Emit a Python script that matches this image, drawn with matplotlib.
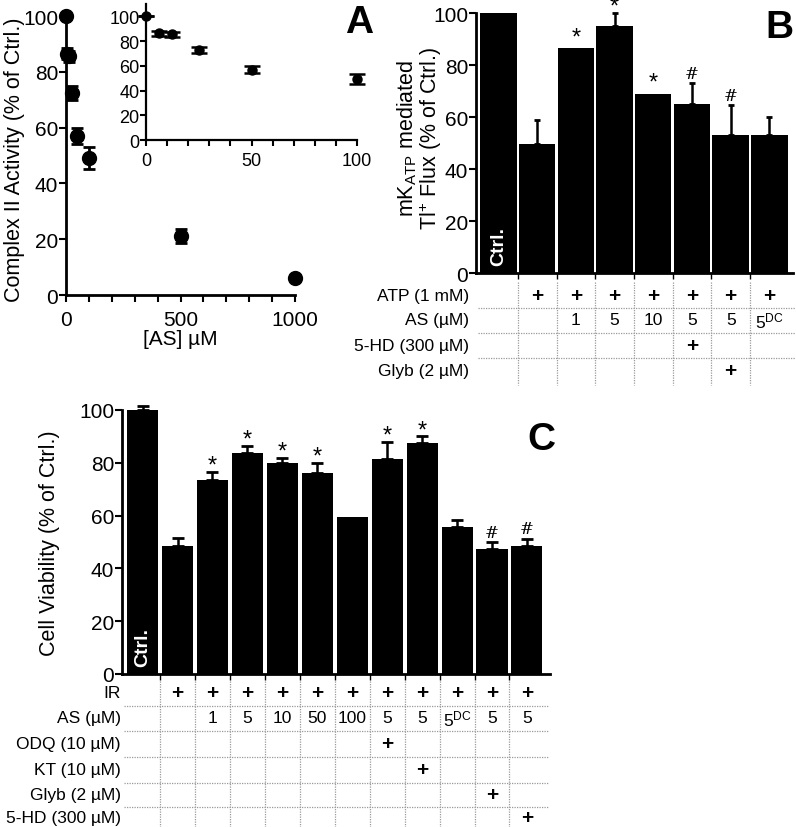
import numpy as np
import matplotlib
matplotlib.use("Agg")
import matplotlib.pyplot as plt
from matplotlib.lines import Line2D
from matplotlib.ticker import FixedLocator, MultipleLocator
from matplotlib.transforms import blended_transform_factory

plt.rcParams['font.family'] = ['Liberation Sans', 'DejaVu Sans']
plt.rcParams['mathtext.fontset'] = 'custom'
plt.rcParams['mathtext.rm'] = 'Liberation Sans'
plt.rcParams['mathtext.it'] = 'Liberation Sans'

# panel A: complex II activity vs [AS]
a_conc = [0, 6.25, 12.5, 25, 50, 100, 500, 1000]
a_act = [100, 86.5, 85.5, 72.5, 57, 49, 21, 6]
a_err = [0, 2, 2, 2.5, 3, 4, 2.5, 0]

# panel B: mK_ATP mediated Tl+ flux
b_vals = [100, 49.5, 86.5, 95, 69, 65, 53, 53]
b_err = [0, 9.5, 0, 5, 0, 8, 11.5, 7]
b_marks = ['', '', '*', '*', '*', '#', '#', '']
b_rows = ['ATP (1 mM)', 'AS (µM)', '5-HD (300 µM)', 'Glyb (2 µM)']
b_cells = [
    ['', '+', '+', '+', '+', '+', '+', '+'],
    ['', '', '1', '5', '10', '5', '5', '5$^{\\mathregular{DC}}$'],
    ['', '', '', '', '', '+', '', ''],
    ['', '', '', '', '', '', '+', ''],
]

# panel C: cell viability
c_vals = [100, 48.3, 73.4, 83.9, 80, 76, 59.5, 81.6, 87.6, 55.7, 47.2, 48.4]
c_err = [1.5, 3.2, 3.3, 2.4, 2, 4, 0, 6.4, 2.4, 2.7, 2.8, 2.8]
c_marks = ['', '', '*', '*', '*', '*', '', '*', '*', '', '#', '#']
c_rows = ['IR', 'AS (µM)', 'ODQ (10 µM)', 'KT (10 µM)', 'Glyb (2 µM)', '5-HD (300 µM)']
c_cells = [
    ['', '+', '+', '+', '+', '+', '+', '+', '+', '+', '+', '+'],
    ['', '', '1', '5', '10', '50', '100', '5', '5', '5$^{\\mathregular{DC}}$', '5', '5'],
    ['', '', '', '', '', '', '', '+', '', '', '', ''],
    ['', '', '', '', '', '', '', '', '+', '', '', ''],
    ['', '', '', '', '', '', '', '', '', '', '+', ''],
    ['', '', '', '', '', '', '', '', '', '', '', '+'],
]

W, H = 796, 828
fig = plt.figure(figsize=(W / 100, H / 100), dpi=100)


def px_axes(left, top, right, bottom):
    return fig.add_axes([left / W, 1 - bottom / H, (right - left) / W, (bottom - top) / H])


def style(ax, lw=2):
    for s in ['top', 'right']:
        ax.spines[s].set_visible(False)
    for s in ['left', 'bottom']:
        ax.spines[s].set_linewidth(lw)
    ax.tick_params(which='both', direction='out', width=1.5, length=5, labelsize=15, pad=0.5)


# ---------- A ----------
axA = px_axes(66, 17, 295, 296)
axA.errorbar(a_conc, a_act, yerr=a_err, fmt='o', color='black', ms=10,
             capsize=4, elinewidth=2, capthick=2, clip_on=False)
axA.set_xlim(0, 1000)
axA.set_ylim(0, 100)
axA.xaxis.set_major_locator(FixedLocator([0, 500, 1000]))
axA.xaxis.set_minor_locator(MultipleLocator(100))
axA.yaxis.set_major_locator(MultipleLocator(20))
style(axA)
axA.tick_params(axis='x', which='both', pad=6)
axA.set_xlabel('[AS] µM', fontsize=15, labelpad=0)
axA.set_ylabel('Complex II Activity (% of Ctrl.)', fontsize=15.5)
axA.yaxis.set_label_coords(-0.178, 0.49)
fig.text(359 / W, 1 - 23 / H, 'A', fontsize=28, fontweight='bold', ha='center', va='center')

axI = px_axes(146, 5, 357, 141)
axI.errorbar(a_conc[:6], a_act[:6], yerr=a_err[:6], fmt='o', color='black', ms=6.5,
             capsize=6, elinewidth=1.8, capthick=1.8, clip_on=False)
axI.set_xlim(0, 100)
axI.set_ylim(0, 110)
axI.xaxis.set_major_locator(FixedLocator([0, 50, 100]))
axI.xaxis.set_minor_locator(MultipleLocator(10))
axI.yaxis.set_major_locator(FixedLocator([0, 20, 40, 60, 80, 100]))
style(axI, lw=1.6)
axI.tick_params(which='both', labelsize=13, length=4)
axI.tick_params(axis='x', which='both', pad=5)


def bars(ax, vals, errs, marks, width, capsize):
    x = np.arange(len(vals))
    ax.bar(x, vals, width=width, color='black', edgecolor='none', clip_on=False)
    errs = np.array(errs, dtype=float)
    idx = errs > 0
    ax.errorbar(x[idx], np.array(vals)[idx], yerr=[np.zeros(idx.sum()), errs[idx]],
                fmt='none', ecolor='black', elinewidth=1.8, capsize=capsize,
                capthick=2, clip_on=False)
    for xi, v, e, m in zip(x, vals, errs, marks):
        if m == '*':
            ax.annotate('*', (xi, v + e), xytext=(0, -3.5 if e > 0 else 0),
                        textcoords='offset points', ha='center', va='bottom',
                        fontsize=17, annotation_clip=False)
        elif m == '#':
            ax.annotate('#', (xi, v + e), xytext=(0, 1), textcoords='offset points',
                        ha='center', va='bottom', fontsize=12,
                        family='DejaVu Serif', annotation_clip=False)
    ax.text(0, 3, 'Ctrl.', color='white', fontweight='bold', rotation=90,
            ha='center', va='bottom', fontsize=14)
    ax.set_xticks(x[:-1] + 0.5)
    ax.set_xticklabels([])
    ax.set_ylim(0, 100)
    ax.yaxis.set_major_locator(MultipleLocator(20))
    style(ax, lw=2)
    ax.tick_params(axis='x', length=4, width=1)


def table(ax, rows, cells, row_px, label_px, hline_x, vline_y):
    tr = blended_transform_factory(ax.transData, fig.transFigure)
    n = len(cells[0])
    for r, (lab, row) in enumerate(zip(rows, cells)):
        y = 1 - row_px[r] / H
        fig.text(label_px / W, y, lab, ha='right', va='center', fontsize=12.5)
        for j, c in enumerate(row):
            if not c:
                continue
            if c == '+':
                ax.text(j, y, '+', transform=tr, ha='center', va='center',
                        fontsize=15, fontweight='bold', clip_on=False)
            else:
                ax.text(j, y, c, transform=tr, ha='center', va='center',
                        fontsize=12.5, clip_on=False)
    for r in range(len(rows) - 1):
        y = 1 - (row_px[r] + row_px[r + 1]) / 2 / H
        fig.add_artist(Line2D([hline_x[0] / W, hline_x[1] / W], [y, y],
                              color='#9a9a9a', lw=0.9, ls=(0, (1, 1))))
    for b in np.arange(n - 1) + 0.5:
        ax.plot([b, b], [1 - vline_y[0] / H, 1 - vline_y[1] / H], transform=tr,
                color='#9a9a9a', lw=0.9, ls=(0, (1, 1)), clip_on=False)


# ---------- B ----------
axB = px_axes(476, 14, 793, 274)
bars(axB, b_vals, b_err, b_marks, 0.94, 2.5)
axB.set_xlim(-0.58, 7.61)
axB.set_ylabel('mK$_{\\mathregular{ATP}}$ mediated\nTl$^{+}$ Flux (% of Ctrl.)',
               fontsize=15.5, linespacing=0.95)
axB.yaxis.set_label_coords(-0.1, 0.52)
fig.text(779 / W, 1 - 28 / H, 'B', fontsize=28, fontweight='bold', ha='center', va='center')
table(axB, b_rows, b_cells, [296, 321, 346, 372], 469, (478, 796), (283, 386))

# ---------- C ----------
axC = px_axes(122, 411, 550, 675)
bars(axC, c_vals, c_err, c_marks, 0.89, 4)
axC.set_xlim(-0.59, 11.66)
axC.set_ylabel('Cell Viability (% of Ctrl.)', fontsize=15.5)
axC.yaxis.set_label_coords(-0.145, 0.5)
fig.text(541 / W, 1 - 440 / H, 'C', fontsize=28, fontweight='bold', ha='center', va='center')
table(axC, c_rows, c_cells, [694, 719, 745, 771, 796, 819], 121, (124, 548), (682, 828))

fig.savefig('out.png', dpi=100, facecolor='white')
